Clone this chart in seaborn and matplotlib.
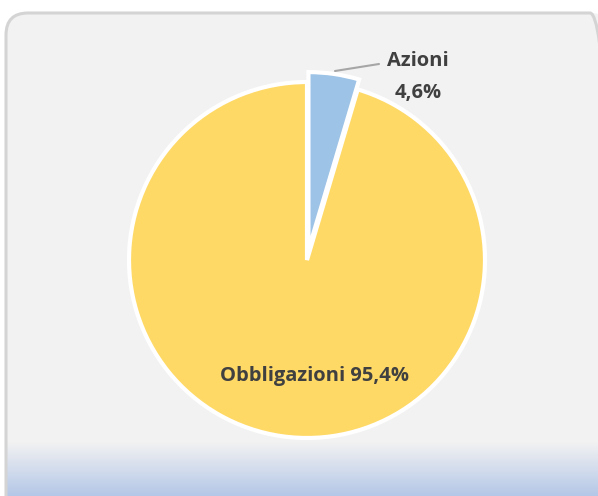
import numpy as np
import matplotlib
matplotlib.use("Agg")
import matplotlib.pyplot as plt
import seaborn as sns
from matplotlib.patches import FancyBboxPatch

categories = ["Azioni", "Obbligazioni"]
values = [4.6, 95.4]
value_labels = ["4,6%", "95,4%"]
colors = ["#9DC3E6", "#FFD966"]

sns.set_style("white")
plt.rcParams['font.family'] = ['Open Sans', 'DejaVu Sans']

W, H = 598, 496
fig = plt.figure(figsize=(W / 100, H / 100), dpi=100)
ax = fig.add_axes([0, 0, 1, 1])
fig.patch.set_facecolor("white")

# chart area background (rounded rectangle)
def make_box(**kw):
    return FancyBboxPatch((6, -30), 606, H - 13 + 30,
                          boxstyle="round,pad=0,rounding_size=22", **kw)

box = make_box(facecolor="#F2F2F2", edgecolor="none", zorder=0)
ax.add_patch(box)
# gradient at bottom
grad = np.linspace(0, 1, 200).reshape(-1, 1)
c_top = np.array([0xF2, 0xF2, 0xF2]) / 255
c_bot = np.array([0xB4, 0xC7, 0xE7]) / 255
img = c_bot[None, None, :] * (1 - grad[..., None]) + c_top[None, None, :] * grad[..., None]
im = ax.imshow(img, extent=(0, W + 10, 0, 54), origin="lower", aspect="auto",
               zorder=0.5, interpolation="bilinear")
im.set_clip_path(box)
ax.add_patch(make_box(facecolor="none", edgecolor="#D4D4D4", linewidth=2.2, zorder=0.8))

cx, cy, r = 307, 236, 178
wedges, _ = ax.pie(values, colors=colors, startangle=90, counterclock=False,
                   center=(cx, cy), radius=r, explode=[10, 0],
                   wedgeprops=dict(edgecolor="white", linewidth=3), frame=True)
ax.set_xlim(0, W)
ax.set_ylim(0, H)
ax.set_aspect("equal")
ax.axis("off")

txt = "#404040"
fs = 14.5
ax.text(418, H - 61, categories[0], ha="center", va="center", fontsize=fs,
        fontweight="bold", color=txt, zorder=5)
ax.text(418, H - 93, value_labels[0], ha="center", va="center", fontsize=fs,
        fontweight="bold", color=txt, zorder=5)
ax.plot([335, 379], [H - 71, H - 64], color="#A6A6A6", linewidth=1.5, zorder=5)

ax.text(314, H - 376, f"{categories[1]} {value_labels[1]}", ha="center", va="center",
        fontsize=fs, fontweight="bold", color=txt, zorder=5)

fig.savefig("out.png", dpi=100)
